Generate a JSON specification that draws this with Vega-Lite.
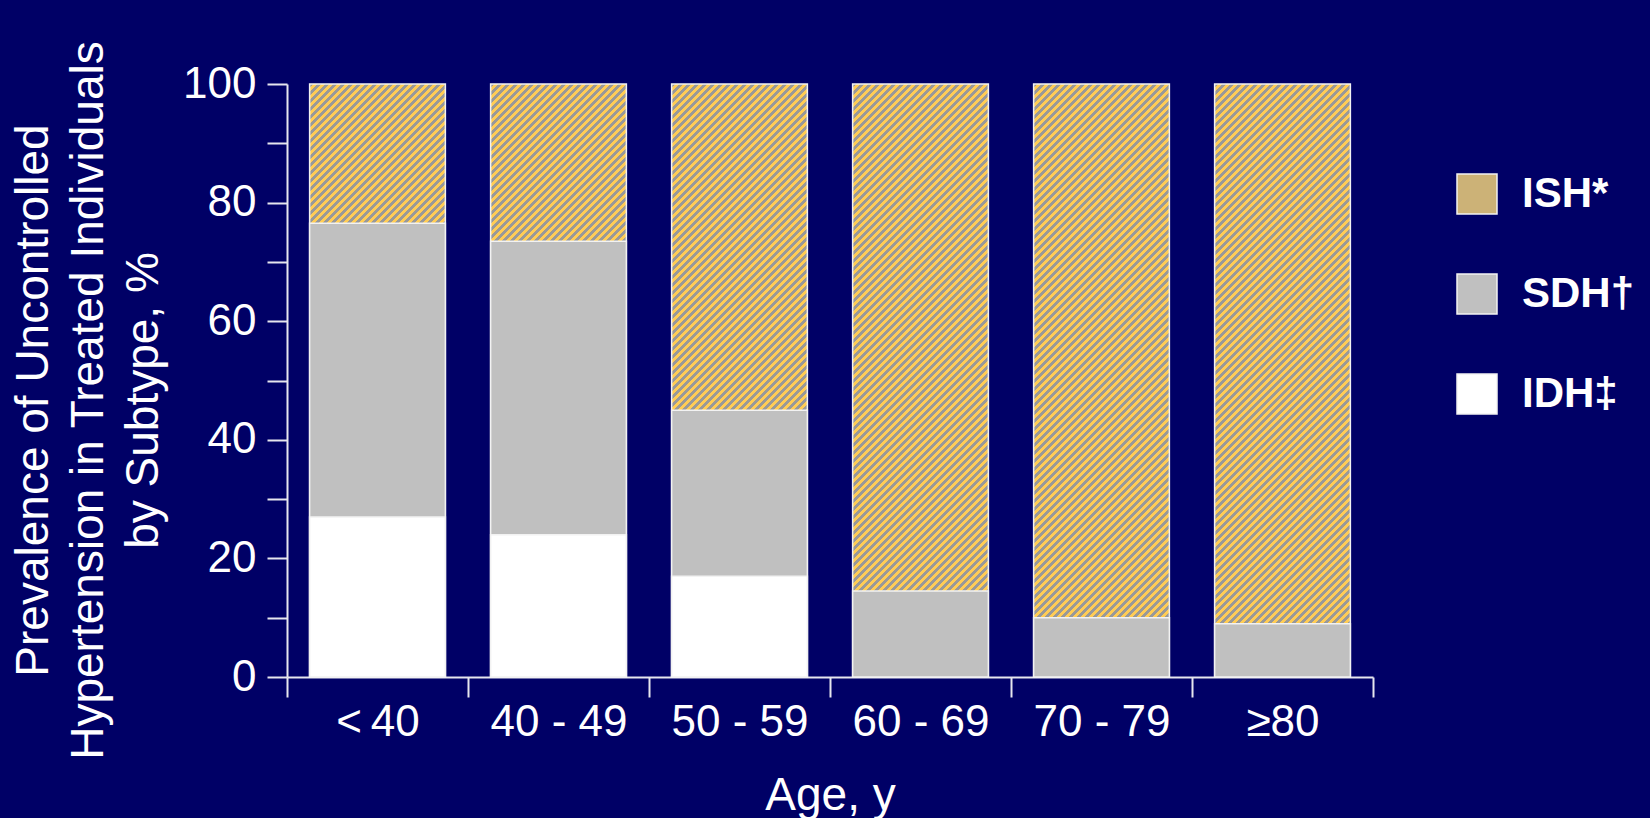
{
  "$schema": "https://vega.github.io/schema/vega-lite/v6.json",
  "width": 1086,
  "height": 593,
  "autosize": {"type": "none"},
  "padding": {"left": 287, "top": 84, "right": 277, "bottom": 141},
  "background": "#000066",
  "config": {
    "font": "Liberation Sans",
    "view": {"stroke": null},
    "axis": {"grid": false, "labelColor": "#ffffff", "titleColor": "#ffffff", "domainColor": "#e6e6ee", "tickColor": "#e6e6ee", "domainWidth": 2, "tickWidth": 2, "tickSize": 20, "labelFontSize": 44, "titleFontSize": 46, "titleFontWeight": "normal", "labelFont": "Liberation Sans", "titleFont": "Liberation Sans"}
  },
  "data": {
    "values": [
      {"age": "<\u200940", "subtype": "IDH‡", "pct": 27},
      {"age": "<\u200940", "subtype": "SDH†", "pct": 49.5},
      {"age": "<\u200940", "subtype": "ISH*", "pct": 23.5},
      {"age": "40 - 49", "subtype": "IDH‡", "pct": 24},
      {"age": "40 - 49", "subtype": "SDH†", "pct": 49.5},
      {"age": "40 - 49", "subtype": "ISH*", "pct": 26.5},
      {"age": "50 - 59", "subtype": "IDH‡", "pct": 17},
      {"age": "50 - 59", "subtype": "SDH†", "pct": 28},
      {"age": "50 - 59", "subtype": "ISH*", "pct": 55},
      {"age": "60 - 69", "subtype": "SDH†", "pct": 14.5},
      {"age": "60 - 69", "subtype": "ISH*", "pct": 85.5},
      {"age": "70 - 79", "subtype": "SDH†", "pct": 10},
      {"age": "70 - 79", "subtype": "ISH*", "pct": 90},
      {"age": "≥80", "subtype": "SDH†", "pct": 9},
      {"age": "≥80", "subtype": "ISH*", "pct": 91}
    ]
  },
  "encoding": {
    "x": {
      "field": "age", "type": "nominal", "sort": null,
      "scale": {"paddingInner": 0, "paddingOuter": 0},
      "axis": {"title": "Age, y", "labelAngle": 0, "tickBand": "extent", "labelPadding": 3, "titlePadding": 29}
    },
    "y": {
      "aggregate": "sum", "field": "pct", "type": "quantitative",
      "scale": {"domain": [0, 100], "nice": false},
      "axis": {
        "title": ["Prevalence of Uncontrolled", "Hypertension in Treated Individuals", "by Subtype, %"],
        "values": [0, 10, 20, 30, 40, 50, 60, 70, 80, 90, 100],
        "labelExpr": "datum.value % 20 === 0 ? datum.label : ''",
        "labelPadding": 11, "titlePadding": 15, "titleLineHeight": 55, "titleY": 316
      }
    }
  },
  "layer": [
    {
      "mark": {
        "type": "bar", "width": {"band": 0.75}, "stroke": "#f2f2f2", "strokeWidth": 1.5,
        "fill": {"gradient": "linear", "x1": 0, "y1": 0, "x2": 0.2932, "y2": 1.282, "stops": [
          {"offset":0,"color":"#999"},{"offset":0.005,"color":"#999"},{"offset":0.005,"color":"#fc5"},{"offset":0.01,"color":"#fc5"},
          {"offset":0.01,"color":"#999"},{"offset":0.015,"color":"#999"},{"offset":0.015,"color":"#fc5"},{"offset":0.02,"color":"#fc5"},
          {"offset":0.02,"color":"#999"},{"offset":0.025,"color":"#999"},{"offset":0.025,"color":"#fc5"},{"offset":0.03,"color":"#fc5"},
          {"offset":0.03,"color":"#999"},{"offset":0.035,"color":"#999"},{"offset":0.035,"color":"#fc5"},{"offset":0.04,"color":"#fc5"},
          {"offset":0.04,"color":"#999"},{"offset":0.045,"color":"#999"},{"offset":0.045,"color":"#fc5"},{"offset":0.05,"color":"#fc5"},
          {"offset":0.05,"color":"#999"},{"offset":0.055,"color":"#999"},{"offset":0.055,"color":"#fc5"},{"offset":0.06,"color":"#fc5"},
          {"offset":0.06,"color":"#999"},{"offset":0.065,"color":"#999"},{"offset":0.065,"color":"#fc5"},{"offset":0.07,"color":"#fc5"},
          {"offset":0.07,"color":"#999"},{"offset":0.075,"color":"#999"},{"offset":0.075,"color":"#fc5"},{"offset":0.08,"color":"#fc5"},
          {"offset":0.08,"color":"#999"},{"offset":0.085,"color":"#999"},{"offset":0.085,"color":"#fc5"},{"offset":0.09,"color":"#fc5"},
          {"offset":0.09,"color":"#999"},{"offset":0.095,"color":"#999"},{"offset":0.095,"color":"#fc5"},{"offset":0.1,"color":"#fc5"},
          {"offset":0.1,"color":"#999"},{"offset":0.105,"color":"#999"},{"offset":0.105,"color":"#fc5"},{"offset":0.11,"color":"#fc5"},
          {"offset":0.11,"color":"#999"},{"offset":0.115,"color":"#999"},{"offset":0.115,"color":"#fc5"},{"offset":0.12,"color":"#fc5"},
          {"offset":0.12,"color":"#999"},{"offset":0.125,"color":"#999"},{"offset":0.125,"color":"#fc5"},{"offset":0.13,"color":"#fc5"},
          {"offset":0.13,"color":"#999"},{"offset":0.135,"color":"#999"},{"offset":0.135,"color":"#fc5"},{"offset":0.14,"color":"#fc5"},
          {"offset":0.14,"color":"#999"},{"offset":0.145,"color":"#999"},{"offset":0.145,"color":"#fc5"},{"offset":0.15,"color":"#fc5"},
          {"offset":0.15,"color":"#999"},{"offset":0.155,"color":"#999"},{"offset":0.155,"color":"#fc5"},{"offset":0.16,"color":"#fc5"},
          {"offset":0.16,"color":"#999"},{"offset":0.165,"color":"#999"},{"offset":0.165,"color":"#fc5"},{"offset":0.17,"color":"#fc5"},
          {"offset":0.17,"color":"#999"},{"offset":0.175,"color":"#999"},{"offset":0.175,"color":"#fc5"},{"offset":0.18,"color":"#fc5"},
          {"offset":0.18,"color":"#999"},{"offset":0.185,"color":"#999"},{"offset":0.185,"color":"#fc5"},{"offset":0.19,"color":"#fc5"},
          {"offset":0.19,"color":"#999"},{"offset":0.195,"color":"#999"},{"offset":0.195,"color":"#fc5"},{"offset":0.2,"color":"#fc5"},
          {"offset":0.2,"color":"#999"},{"offset":0.205,"color":"#999"},{"offset":0.205,"color":"#fc5"},{"offset":0.21,"color":"#fc5"},
          {"offset":0.21,"color":"#999"},{"offset":0.215,"color":"#999"},{"offset":0.215,"color":"#fc5"},{"offset":0.22,"color":"#fc5"},
          {"offset":0.22,"color":"#999"},{"offset":0.225,"color":"#999"},{"offset":0.225,"color":"#fc5"},{"offset":0.23,"color":"#fc5"},
          {"offset":0.23,"color":"#999"},{"offset":0.235,"color":"#999"},{"offset":0.235,"color":"#fc5"},{"offset":0.24,"color":"#fc5"},
          {"offset":0.24,"color":"#999"},{"offset":0.245,"color":"#999"},{"offset":0.245,"color":"#fc5"},{"offset":0.25,"color":"#fc5"},
          {"offset":0.25,"color":"#999"},{"offset":0.255,"color":"#999"},{"offset":0.255,"color":"#fc5"},{"offset":0.26,"color":"#fc5"},
          {"offset":0.26,"color":"#999"},{"offset":0.265,"color":"#999"},{"offset":0.265,"color":"#fc5"},{"offset":0.27,"color":"#fc5"},
          {"offset":0.27,"color":"#999"},{"offset":0.275,"color":"#999"},{"offset":0.275,"color":"#fc5"},{"offset":0.28,"color":"#fc5"},
          {"offset":0.28,"color":"#999"},{"offset":0.285,"color":"#999"},{"offset":0.285,"color":"#fc5"},{"offset":0.29,"color":"#fc5"},
          {"offset":0.29,"color":"#999"},{"offset":0.295,"color":"#999"},{"offset":0.295,"color":"#fc5"},{"offset":0.3,"color":"#fc5"},
          {"offset":0.3,"color":"#999"},{"offset":0.305,"color":"#999"},{"offset":0.305,"color":"#fc5"},{"offset":0.31,"color":"#fc5"},
          {"offset":0.31,"color":"#999"},{"offset":0.315,"color":"#999"},{"offset":0.315,"color":"#fc5"},{"offset":0.32,"color":"#fc5"},
          {"offset":0.32,"color":"#999"},{"offset":0.325,"color":"#999"},{"offset":0.325,"color":"#fc5"},{"offset":0.33,"color":"#fc5"},
          {"offset":0.33,"color":"#999"},{"offset":0.335,"color":"#999"},{"offset":0.335,"color":"#fc5"},{"offset":0.34,"color":"#fc5"},
          {"offset":0.34,"color":"#999"},{"offset":0.345,"color":"#999"},{"offset":0.345,"color":"#fc5"},{"offset":0.35,"color":"#fc5"},
          {"offset":0.35,"color":"#999"},{"offset":0.355,"color":"#999"},{"offset":0.355,"color":"#fc5"},{"offset":0.36,"color":"#fc5"},
          {"offset":0.36,"color":"#999"},{"offset":0.365,"color":"#999"},{"offset":0.365,"color":"#fc5"},{"offset":0.37,"color":"#fc5"},
          {"offset":0.37,"color":"#999"},{"offset":0.375,"color":"#999"},{"offset":0.375,"color":"#fc5"},{"offset":0.38,"color":"#fc5"},
          {"offset":0.38,"color":"#999"},{"offset":0.385,"color":"#999"},{"offset":0.385,"color":"#fc5"},{"offset":0.39,"color":"#fc5"},
          {"offset":0.39,"color":"#999"},{"offset":0.395,"color":"#999"},{"offset":0.395,"color":"#fc5"},{"offset":0.4,"color":"#fc5"},
          {"offset":0.4,"color":"#999"},{"offset":0.405,"color":"#999"},{"offset":0.405,"color":"#fc5"},{"offset":0.41,"color":"#fc5"},
          {"offset":0.41,"color":"#999"},{"offset":0.415,"color":"#999"},{"offset":0.415,"color":"#fc5"},{"offset":0.42,"color":"#fc5"},
          {"offset":0.42,"color":"#999"},{"offset":0.425,"color":"#999"},{"offset":0.425,"color":"#fc5"},{"offset":0.43,"color":"#fc5"},
          {"offset":0.43,"color":"#999"},{"offset":0.435,"color":"#999"},{"offset":0.435,"color":"#fc5"},{"offset":0.44,"color":"#fc5"},
          {"offset":0.44,"color":"#999"},{"offset":0.445,"color":"#999"},{"offset":0.445,"color":"#fc5"},{"offset":0.45,"color":"#fc5"},
          {"offset":0.45,"color":"#999"},{"offset":0.455,"color":"#999"},{"offset":0.455,"color":"#fc5"},{"offset":0.46,"color":"#fc5"},
          {"offset":0.46,"color":"#999"},{"offset":0.465,"color":"#999"},{"offset":0.465,"color":"#fc5"},{"offset":0.47,"color":"#fc5"},
          {"offset":0.47,"color":"#999"},{"offset":0.475,"color":"#999"},{"offset":0.475,"color":"#fc5"},{"offset":0.48,"color":"#fc5"},
          {"offset":0.48,"color":"#999"},{"offset":0.485,"color":"#999"},{"offset":0.485,"color":"#fc5"},{"offset":0.49,"color":"#fc5"},
          {"offset":0.49,"color":"#999"},{"offset":0.495,"color":"#999"},{"offset":0.495,"color":"#fc5"},{"offset":0.5,"color":"#fc5"},
          {"offset":0.5,"color":"#999"},{"offset":0.505,"color":"#999"},{"offset":0.505,"color":"#fc5"},{"offset":0.51,"color":"#fc5"},
          {"offset":0.51,"color":"#999"},{"offset":0.515,"color":"#999"},{"offset":0.515,"color":"#fc5"},{"offset":0.52,"color":"#fc5"},
          {"offset":0.52,"color":"#999"},{"offset":0.525,"color":"#999"},{"offset":0.525,"color":"#fc5"},{"offset":0.53,"color":"#fc5"},
          {"offset":0.53,"color":"#999"},{"offset":0.535,"color":"#999"},{"offset":0.535,"color":"#fc5"},{"offset":0.54,"color":"#fc5"},
          {"offset":0.54,"color":"#999"},{"offset":0.545,"color":"#999"},{"offset":0.545,"color":"#fc5"},{"offset":0.55,"color":"#fc5"},
          {"offset":0.55,"color":"#999"},{"offset":0.555,"color":"#999"},{"offset":0.555,"color":"#fc5"},{"offset":0.56,"color":"#fc5"},
          {"offset":0.56,"color":"#999"},{"offset":0.565,"color":"#999"},{"offset":0.565,"color":"#fc5"},{"offset":0.57,"color":"#fc5"},
          {"offset":0.57,"color":"#999"},{"offset":0.575,"color":"#999"},{"offset":0.575,"color":"#fc5"},{"offset":0.58,"color":"#fc5"},
          {"offset":0.58,"color":"#999"},{"offset":0.585,"color":"#999"},{"offset":0.585,"color":"#fc5"},{"offset":0.59,"color":"#fc5"},
          {"offset":0.59,"color":"#999"},{"offset":0.595,"color":"#999"},{"offset":0.595,"color":"#fc5"},{"offset":0.6,"color":"#fc5"},
          {"offset":0.6,"color":"#999"},{"offset":0.605,"color":"#999"},{"offset":0.605,"color":"#fc5"},{"offset":0.61,"color":"#fc5"},
          {"offset":0.61,"color":"#999"},{"offset":0.615,"color":"#999"},{"offset":0.615,"color":"#fc5"},{"offset":0.62,"color":"#fc5"},
          {"offset":0.62,"color":"#999"},{"offset":0.625,"color":"#999"},{"offset":0.625,"color":"#fc5"},{"offset":0.63,"color":"#fc5"},
          {"offset":0.63,"color":"#999"},{"offset":0.635,"color":"#999"},{"offset":0.635,"color":"#fc5"},{"offset":0.64,"color":"#fc5"},
          {"offset":0.64,"color":"#999"},{"offset":0.645,"color":"#999"},{"offset":0.645,"color":"#fc5"},{"offset":0.65,"color":"#fc5"},
          {"offset":0.65,"color":"#999"},{"offset":0.655,"color":"#999"},{"offset":0.655,"color":"#fc5"},{"offset":0.66,"color":"#fc5"},
          {"offset":0.66,"color":"#999"},{"offset":0.665,"color":"#999"},{"offset":0.665,"color":"#fc5"},{"offset":0.67,"color":"#fc5"},
          {"offset":0.67,"color":"#999"},{"offset":0.675,"color":"#999"},{"offset":0.675,"color":"#fc5"},{"offset":0.68,"color":"#fc5"},
          {"offset":0.68,"color":"#999"},{"offset":0.685,"color":"#999"},{"offset":0.685,"color":"#fc5"},{"offset":0.69,"color":"#fc5"},
          {"offset":0.69,"color":"#999"},{"offset":0.695,"color":"#999"},{"offset":0.695,"color":"#fc5"},{"offset":0.7,"color":"#fc5"},
          {"offset":0.7,"color":"#999"},{"offset":0.705,"color":"#999"},{"offset":0.705,"color":"#fc5"},{"offset":0.71,"color":"#fc5"},
          {"offset":0.71,"color":"#999"},{"offset":0.715,"color":"#999"},{"offset":0.715,"color":"#fc5"},{"offset":0.72,"color":"#fc5"},
          {"offset":0.72,"color":"#999"},{"offset":0.725,"color":"#999"},{"offset":0.725,"color":"#fc5"},{"offset":0.73,"color":"#fc5"},
          {"offset":0.73,"color":"#999"},{"offset":0.735,"color":"#999"},{"offset":0.735,"color":"#fc5"},{"offset":0.74,"color":"#fc5"},
          {"offset":0.74,"color":"#999"},{"offset":0.745,"color":"#999"},{"offset":0.745,"color":"#fc5"},{"offset":0.75,"color":"#fc5"},
          {"offset":0.75,"color":"#999"},{"offset":0.755,"color":"#999"},{"offset":0.755,"color":"#fc5"},{"offset":0.76,"color":"#fc5"},
          {"offset":0.76,"color":"#999"},{"offset":0.765,"color":"#999"},{"offset":0.765,"color":"#fc5"},{"offset":0.77,"color":"#fc5"},
          {"offset":0.77,"color":"#999"},{"offset":0.775,"color":"#999"},{"offset":0.775,"color":"#fc5"},{"offset":0.78,"color":"#fc5"},
          {"offset":0.78,"color":"#999"},{"offset":0.785,"color":"#999"},{"offset":0.785,"color":"#fc5"},{"offset":0.79,"color":"#fc5"},
          {"offset":0.79,"color":"#999"},{"offset":0.795,"color":"#999"},{"offset":0.795,"color":"#fc5"},{"offset":0.8,"color":"#fc5"},
          {"offset":0.8,"color":"#999"},{"offset":0.805,"color":"#999"},{"offset":0.805,"color":"#fc5"},{"offset":0.81,"color":"#fc5"},
          {"offset":0.81,"color":"#999"},{"offset":0.815,"color":"#999"},{"offset":0.815,"color":"#fc5"},{"offset":0.82,"color":"#fc5"},
          {"offset":0.82,"color":"#999"},{"offset":0.825,"color":"#999"},{"offset":0.825,"color":"#fc5"},{"offset":0.83,"color":"#fc5"},
          {"offset":0.83,"color":"#999"},{"offset":0.835,"color":"#999"},{"offset":0.835,"color":"#fc5"},{"offset":0.84,"color":"#fc5"},
          {"offset":0.84,"color":"#999"},{"offset":0.845,"color":"#999"},{"offset":0.845,"color":"#fc5"},{"offset":0.85,"color":"#fc5"},
          {"offset":0.85,"color":"#999"},{"offset":0.855,"color":"#999"},{"offset":0.855,"color":"#fc5"},{"offset":0.86,"color":"#fc5"},
          {"offset":0.86,"color":"#999"},{"offset":0.865,"color":"#999"},{"offset":0.865,"color":"#fc5"},{"offset":0.87,"color":"#fc5"},
          {"offset":0.87,"color":"#999"},{"offset":0.875,"color":"#999"},{"offset":0.875,"color":"#fc5"},{"offset":0.88,"color":"#fc5"},
          {"offset":0.88,"color":"#999"},{"offset":0.885,"color":"#999"},{"offset":0.885,"color":"#fc5"},{"offset":0.89,"color":"#fc5"},
          {"offset":0.89,"color":"#999"},{"offset":0.895,"color":"#999"},{"offset":0.895,"color":"#fc5"},{"offset":0.9,"color":"#fc5"},
          {"offset":0.9,"color":"#999"},{"offset":0.905,"color":"#999"},{"offset":0.905,"color":"#fc5"},{"offset":0.91,"color":"#fc5"},
          {"offset":0.91,"color":"#999"},{"offset":0.915,"color":"#999"},{"offset":0.915,"color":"#fc5"},{"offset":0.92,"color":"#fc5"},
          {"offset":0.92,"color":"#999"},{"offset":1,"color":"#999"}
        ]}
      }
    },
    {
      "transform": [{"filter": {"field": "subtype", "oneOf": ["SDH†", "IDH‡"]}}],
      "mark": {"type": "bar", "width": {"band": 0.75}, "stroke": "#f2f2f2", "strokeWidth": 1.5},
      "encoding": {
        "color": {
          "datum": "SDH†", "type": "nominal",
          "scale": {"domain": ["ISH*", "SDH†", "IDH‡"], "range": ["#ccb277", "#c0c0c0", "#ffffff"]},
          "legend": {
            "title": null, "orient": "none", "legendX": 1169, "legendY": 89,
            "symbolType": "square", "symbolSize": 1600, "symbolOpacity": 1,
            "symbolStrokeColor": "#dcdcdc", "symbolStrokeWidth": 1.5,
            "labelFont": "Liberation Sans", "labelFontSize": 42, "labelFontWeight": "bold", "labelColor": "#ffffff",
            "labelOffset": 24, "rowPadding": 54, "padding": 0
          }
        }
      }
    },
    {
      "transform": [{"filter": {"field": "subtype", "equal": "IDH‡"}}],
      "mark": {"type": "bar", "width": {"band": 0.75}, "stroke": "#f2f2f2", "strokeWidth": 1.5},
      "encoding": {
        "color": {
          "datum": "IDH‡", "type": "nominal",
          "scale": {"domain": ["ISH*", "SDH†", "IDH‡"], "range": ["#ccb277", "#c0c0c0", "#ffffff"]}
        }
      }
    }
  ]
}
